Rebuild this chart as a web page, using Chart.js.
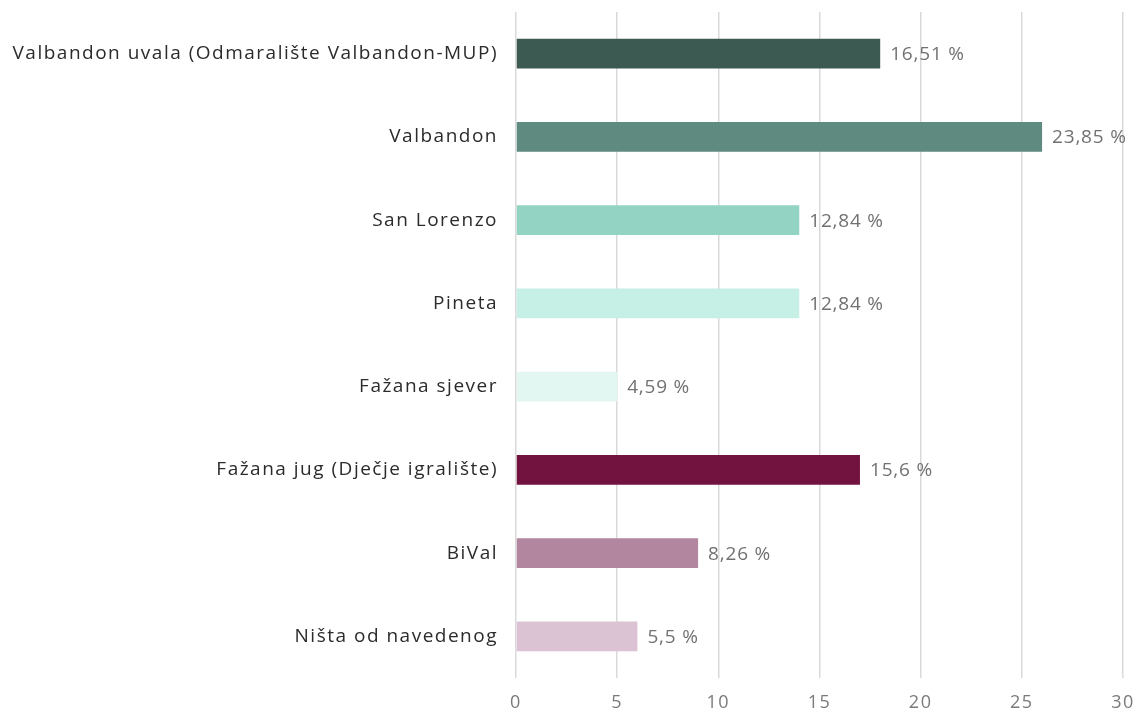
<!DOCTYPE html>
<html>
<head>
<meta charset="utf-8">
<script src="https://cdn.jsdelivr.net/npm/chart.js@4.4.1/dist/chart.umd.min.js"></script>
<style>
  html, body { margin: 0; padding: 0; background: #ffffff; }
  #wrap { width: 1140px; height: 711px; position: relative; }
</style>
</head>
<body>
<div id="wrap"><canvas id="c" width="1140" height="711"></canvas></div>
<script>
const categories = [
  "Valbandon uvala (Odmaralište Valbandon-MUP)",
  "Valbandon",
  "San Lorenzo",
  "Pineta",
  "Fažana sjever",
  "Fažana jug (Dječje igralište)",
  "BiVal",
  "Ništa od navedenog"
];
const counts = [18, 26, 14, 14, 5, 17, 9, 6];
const percentLabels = ["16,51 %", "23,85 %", "12,84 %", "12,84 %", "4,59 %", "15,6 %", "8,26 %", "5,5 %"];
const barColors = ["#3d5a52", "#5e8a7f", "#93d3c3", "#c6f0e6", "#e2f7f2", "#72133f", "#b3869f", "#dcc3d3"];
const xTicks = [0, 5, 10, 15, 20, 25, 30];

const FONT = "'Open Sans', 'Lato', sans-serif";
const SPACING = '1.5px';

const spacingPlugin = {
  id: 'spacing',
  beforeUpdate(chart) { chart.ctx.letterSpacing = SPACING; },
  beforeLayout(chart) { chart.ctx.letterSpacing = SPACING; },
  beforeDraw(chart) { chart.ctx.letterSpacing = SPACING; }
};

const valueLabelPlugin = {
  id: 'valueLabels',
  afterDatasetsDraw(chart) {
    const ctx = chart.ctx;
    const meta = chart.getDatasetMeta(0);
    ctx.save();
    ctx.letterSpacing = '0.8px';
    ctx.font = "19px " + FONT;
    ctx.fillStyle = "#717171";
    ctx.textAlign = "left";
    ctx.textBaseline = "middle";
    meta.data.forEach((bar, i) => {
      ctx.fillText(percentLabels[i], bar.x + 10, bar.y + 1);
    });
    ctx.restore();
  }
};

new Chart(document.getElementById('c'), {
  type: 'bar',
  data: {
    labels: categories,
    datasets: [{
      data: counts,
      backgroundColor: barColors,
      borderWidth: 0,
      barPercentage: 0.6,
      categoryPercentage: 0.6
    }]
  },
  options: {
    indexAxis: 'y',
    responsive: false,
    animation: false,
    devicePixelRatio: 1,
    layout: { padding: { top: 12, right: 17, bottom: 0, left: 0 } },
    plugins: {
      legend: { display: false },
      tooltip: { enabled: false }
    },
    scales: {
      x: {
        min: 0,
        max: 30,
        afterBuildTicks(axis) { axis.ticks = xTicks.map(v => ({ value: v })); },
        afterFit(scale) { scale.height = 33; scale.paddingLeft = 0; scale.paddingRight = 0; },
        grid: { color: "#d9d9d9", lineWidth: 1.5, drawTicks: false },
        border: { display: false },
        ticks: { color: "#7a7a7a", font: { family: FONT, size: 18 }, padding: 14 }
      },
      y: {
        afterFit(scale) { scale.width = 516; scale.paddingTop = 0; scale.paddingBottom = 0; },
        grid: { display: false, drawTicks: false },
        border: { display: false },
        ticks: { color: "#2b2b2b", font: { family: FONT, size: 19 }, padding: 18 }
      }
    }
  },
  plugins: [spacingPlugin, valueLabelPlugin]
});
</script>
</body>
</html>
